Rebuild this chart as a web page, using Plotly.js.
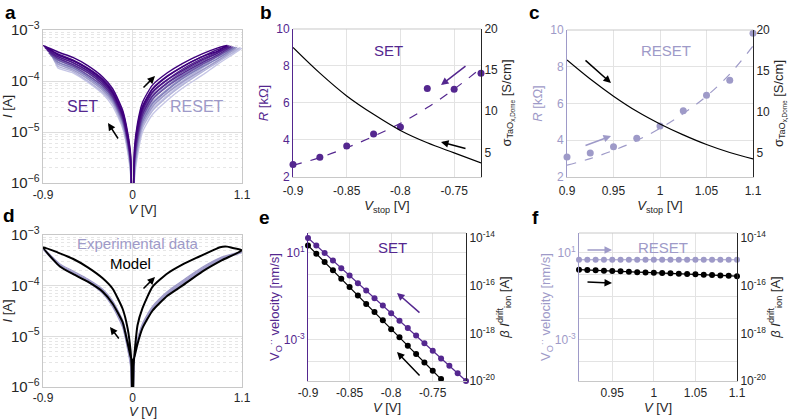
<!DOCTYPE html>
<html><head><meta charset="utf-8">
<script src="https://cdn.plot.ly/plotly-3.0.1.min.js"></script>
<style>html,body{margin:0;padding:0;background:#fff;}#chart{width:800px;height:419px;}</style>
</head><body><div id="chart"></div>
<script>
// ================= DATA =================
// ---- Panel a: I-V cycles (dark -> light) ----
const cycleColors = ['#3f007d','#4a1486','#54278f','#6a51a3','#807dba','#9e9ac8','#b3b3d9','#c6c6e6'];
const zeroCurrent = 1e-7;
const setGridV = [-0.02,-0.05,-0.1,-0.2,-0.3,-0.45,-0.6,-0.75];
const setStopV = [-0.9,-0.88,-0.86,-0.84,-0.82,-0.80,-0.79,-0.775];
const setStopI = [5.0e-4,4.5e-4,4.0e-4,3.5e-4,3.2e-4,2.8e-4,2.6e-4,2.4e-4];
const setOutI = [
 [3.2e-6,8.3e-6,2.2e-5,6.0e-5,1.05e-4,1.75e-4,2.5e-4,3.3e-4],
 [2.9e-6,7.6e-6,2.1e-5,5.5e-5,9.5e-5,1.6e-4,2.3e-4,3.0e-4],
 [2.6e-6,6.9e-6,1.9e-5,5.0e-5,8.6e-5,1.45e-4,2.1e-4,2.8e-4],
 [2.4e-6,6.3e-6,1.7e-5,4.6e-5,7.9e-5,1.3e-4,1.95e-4,2.6e-4],
 [2.1e-6,5.8e-6,1.6e-5,4.2e-5,7.2e-5,1.2e-4,1.8e-4,2.35e-4],
 [1.9e-6,5.3e-6,1.45e-5,3.9e-5,6.6e-5,1.1e-4,1.65e-4,2.15e-4],
 [1.7e-6,4.7e-6,1.3e-5,3.6e-5,6.0e-5,1.0e-4,1.55e-4,1.95e-4],
 [1.5e-6,4.2e-6,1.2e-5,3.2e-5,5.6e-5,9.5e-5,1.45e-4,1.8e-4]];
const setBackI = [
 [3.8e-6,1.0e-5,2.7e-5,7.1e-5,1.2e-4,2.0e-4,2.9e-4,3.7e-4],
 [3.4e-6,9.1e-6,2.5e-5,6.5e-5,1.1e-4,1.8e-4,2.6e-4,3.4e-4],
 [3.1e-6,8.1e-6,2.2e-5,5.9e-5,1.0e-4,1.7e-4,2.5e-4,3.2e-4],
 [2.8e-6,7.4e-6,2.0e-5,5.4e-5,9.3e-5,1.55e-4,2.3e-4,3.0e-4],
 [2.5e-6,6.8e-6,1.9e-5,4.9e-5,8.5e-5,1.45e-4,2.1e-4,2.7e-4],
 [2.2e-6,6.2e-6,1.7e-5,4.6e-5,7.8e-5,1.3e-4,1.95e-4,2.5e-4],
 [2.0e-6,5.5e-6,1.55e-5,4.2e-5,7.1e-5,1.2e-4,1.8e-4,2.3e-4],
 [1.8e-6,5.0e-6,1.4e-5,3.8e-5,6.6e-5,1.1e-4,1.7e-4,2.1e-4]];
const resetGridV = [0.02,0.05,0.1,0.2,0.35,0.5,0.7,0.85];
const resetStopV = [0.95,0.97,0.99,1.01,1.03,1.05,1.08,1.1];
const resetStopI = [5.0e-4,4.9e-4,4.8e-4,4.7e-4,4.6e-4,4.6e-4,4.5e-4,4.4e-4];
const resetOutI = [
 [5.0e-6,1.5e-5,3.8e-5,8.3e-5,1.45e-4,2.2e-4,3.4e-4,4.4e-4],
 [4.4e-6,1.3e-5,3.2e-5,7.1e-5,1.26e-4,1.9e-4,3.0e-4,4.1e-4],
 [3.7e-6,1.1e-5,2.8e-5,6.2e-5,1.07e-4,1.7e-4,2.75e-4,3.7e-4],
 [3.2e-6,9.3e-6,2.4e-5,5.2e-5,9.3e-5,1.5e-4,2.45e-4,3.5e-4],
 [2.8e-6,8.1e-6,2.1e-5,4.5e-5,8.1e-5,1.3e-4,2.2e-4,3.2e-4],
 [2.4e-6,6.9e-6,1.8e-5,3.8e-5,6.9e-5,1.15e-4,1.95e-4,3.0e-4],
 [2.0e-6,5.9e-6,1.55e-5,3.3e-5,6.0e-5,1.0e-4,1.8e-4,2.75e-4],
 [1.8e-6,5.0e-6,1.3e-5,2.8e-5,5.2e-5,8.9e-5,1.6e-4,2.5e-4]];
const resetBackI = [
 [4.0e-6,1.2e-5,3.0e-5,6.9e-5,1.23e-4,1.9e-4,3.0e-4,3.8e-4],
 [3.4e-6,1.0e-5,2.6e-5,5.9e-5,1.05e-4,1.6e-4,2.6e-4,3.5e-4],
 [2.9e-6,8.5e-6,2.2e-5,5.0e-5,9.1e-5,1.4e-4,2.3e-4,3.2e-4],
 [2.5e-6,7.1e-6,1.9e-5,4.3e-5,7.8e-5,1.23e-4,2.1e-4,3.0e-4],
 [2.0e-6,6.0e-6,1.6e-5,3.6e-5,6.6e-5,1.1e-4,1.9e-4,2.7e-4],
 [1.7e-6,5.0e-6,1.4e-5,3.1e-5,5.8e-5,9.5e-5,1.65e-4,2.45e-4],
 [1.5e-6,4.3e-6,1.2e-5,2.6e-5,4.9e-5,8.3e-5,1.5e-4,2.3e-4],
 [1.26e-6,3.5e-6,1.0e-5,2.2e-5,4.2e-5,7.2e-5,1.3e-4,2.1e-4]];

// ---- Panel b: SET ----
const setVstop = [-0.9,-0.875,-0.85,-0.825,-0.8,-0.775,-0.75,-0.725];
const setR = [2.67,3.07,3.67,4.33,4.70,6.78,6.74,7.61];
const setRfit = [2.63,3.05,3.58,4.2,4.9,5.75,6.75,7.88];
const setSigma = [17.76,14.63,11.86,9.62,7.66,6.16,4.93,3.71];

// ---- Panel c: RESET ----
const resetVstop = [0.9,0.925,0.95,0.975,1.0,1.025,1.05,1.075,1.1];
const resetR = [3.09,3.31,3.64,4.11,4.78,5.6,6.45,7.27,9.82];
const resetRfit = [2.64,3.0,3.45,3.98,4.65,5.45,6.4,7.6,9.13];
const resetSigma = [16.33,14.0,11.9,10.05,8.5,7.16,5.98,5.0,4.22];

// ---- Panel d: model & experiment ----
const modelSetOutV = [-0.01,-0.02,-0.05,-0.1,-0.2,-0.3,-0.45,-0.6,-0.73,-0.8,-0.9];
const modelSetOutI = [3.5e-6,4.0e-6,7.4e-6,1.9e-5,4.4e-5,7.6e-5,1.2e-4,1.7e-4,2.4e-4,3.3e-4,5.75e-4];
const modelSetBackV = [-0.75,-0.6,-0.45,-0.3,-0.2,-0.1,-0.05,-0.02,-0.01];
const modelSetBackI = [4.5e-4,3.4e-4,2.3e-4,1.4e-4,8.7e-5,3.5e-5,1.45e-5,5.2e-6,2.5e-6];
const modelResetOutV = [0.01,0.02,0.05,0.1,0.2,0.35,0.5,0.65,0.8,0.88,0.95,1.0,1.1];
const modelResetOutI = [2.5e-6,4.6e-6,1.65e-5,3.6e-5,9.5e-5,1.74e-4,2.6e-4,3.6e-4,4.9e-4,5.75e-4,5.9e-4,5.6e-4,5.0e-4];
const modelResetBackV = [0.9,0.7,0.5,0.35,0.2,0.1,0.05,0.02,0.01];
const modelResetBackI = [3.2e-4,1.9e-4,1.0e-4,6.3e-5,3.2e-5,1.45e-5,7.1e-6,4.0e-6,3.5e-6];

const expSetGridV = [-0.02,-0.05,-0.1,-0.2,-0.3,-0.45,-0.6,-0.73,-0.8];
const expSetStopV = -0.9;
const expSetStopI = [5.6e-4,5.4e-4,5.2e-4];
const expSetOutI = [
 [3.2e-6,7.0e-6,1.8e-5,4.5e-5,7.8e-5,1.25e-4,1.8e-4,2.5e-4,3.4e-4],
 [2.8e-6,6.0e-6,1.6e-5,4.0e-5,7.2e-5,1.2e-4,1.75e-4,2.45e-4,3.3e-4],
 [2.5e-6,5.5e-6,1.5e-5,3.8e-5,7.0e-5,1.18e-4,1.7e-4,2.35e-4,3.2e-4]];
const expSetBackI = [
 [3.6e-6,8.5e-6,2.1e-5,5.0e-5,8.5e-5,1.35e-4,1.95e-4,2.7e-4,3.6e-4],
 [3.3e-6,8.0e-6,2.0e-5,4.8e-5,8.2e-5,1.3e-4,1.85e-4,2.6e-4,3.5e-4],
 [3.0e-6,7.5e-6,1.9e-5,4.6e-5,7.9e-5,1.25e-4,1.8e-4,2.5e-4,3.4e-4]];
const expResetGridV = [0.02,0.05,0.1,0.2,0.35,0.5,0.7,0.9];
const expResetStopV = 1.1;
const expResetStopI = [4.6e-4,4.5e-4,4.7e-4];
const expResetOutI = [
 [4.5e-6,8.5e-6,1.7e-5,3.7e-5,7.4e-5,1.2e-4,2.2e-4,3.6e-4],
 [4.2e-6,8.0e-6,1.6e-5,3.5e-5,7.1e-5,1.15e-4,2.1e-4,3.5e-4],
 [4.8e-6,9.0e-6,1.8e-5,3.9e-5,7.7e-5,1.25e-4,2.3e-4,3.7e-4]];
const expResetBackI = [
 [4.0e-6,7.6e-6,1.55e-5,3.4e-5,6.8e-5,1.1e-4,2.05e-4,3.4e-4],
 [3.8e-6,7.3e-6,1.5e-5,3.3e-5,6.6e-5,1.07e-4,2.0e-4,3.3e-4],
 [4.1e-6,7.8e-6,1.6e-5,3.5e-5,7.0e-5,1.13e-4,2.1e-4,3.5e-4]];

// ---- Panel e: SET kinetics ----
const eV = [-0.90,-0.89,-0.88,-0.87,-0.86,-0.85,-0.84,-0.83,-0.82,-0.81,-0.80,-0.79,-0.78,-0.77,-0.76,-0.75,-0.74,-0.73,-0.72,-0.71];
const eVelocity = [49,22,10,4.5,2.0,0.91,0.41,0.19,0.083,0.038,0.017,0.0077,0.0035,0.0016,7.1e-4,3.2e-4,1.4e-4,6.5e-5,2.9e-5,1.3e-5];
const eVdrift = [-0.90,-0.89,-0.88,-0.87,-0.86,-0.85,-0.84,-0.83,-0.82,-0.81,-0.80,-0.79,-0.78,-0.77,-0.76,-0.75,-0.74];
const eDrift = [4.9e-15,2.2e-15,9.8e-16,4.4e-16,1.95e-16,8.7e-17,3.9e-17,1.7e-17,7.8e-18,3.5e-18,1.5e-18,6.8e-19,3.0e-19,1.35e-19,6.0e-20,2.7e-20,1.2e-20];

// ---- Panel f: RESET kinetics ----
const fV = [0.91,0.92,0.93,0.94,0.95,0.96,0.97,0.98,0.99,1.00,1.01,1.02,1.03,1.04,1.05,1.06,1.07,1.08,1.09,1.10];
const fVelocity = [4.9,4.9,4.9,4.9,4.9,4.9,4.9,4.9,4.9,4.9,4.9,4.9,4.9,4.9,4.9,4.9,4.9,4.9,4.9,4.9];
const fDrift = [4.7e-16,4.5e-16,4.4e-16,4.2e-16,4.1e-16,4.0e-16,3.8e-16,3.7e-16,3.6e-16,3.5e-16,3.4e-16,3.3e-16,3.2e-16,3.1e-16,3.0e-16,2.9e-16,2.8e-16,2.7e-16,2.6e-16,2.5e-16];

// ================= STYLE =================
const PURPLE = '#54278f', LAV = '#9e9ac8', DARK = '#262626', GRID = '#e3e3e3', BOX = '#c8c8c8';
const FONT = 'Liberation Sans, Arial, Helvetica, sans-serif';

function rev(a){ return a.slice().reverse(); }
const traces = [];

// Panel a traces (light first, dark on top)
for (let k = cycleColors.length - 1; k >= 0; k--) {
  const x = [0].concat(setGridV, [setStopV[k]], rev(setGridV), [0], resetGridV, [resetStopV[k]], rev(resetGridV), [0]);
  const y = [zeroCurrent].concat(setOutI[k], [setStopI[k]], rev(setBackI[k]), [zeroCurrent], resetOutI[k], [resetStopI[k]], rev(resetBackI[k]), [zeroCurrent]);
  traces.push({x, y, xaxis:'x', yaxis:'y', mode:'lines', line:{color:cycleColors[k], width:1.4, shape:'spline', smoothing:0.6}, hoverinfo:'skip'});
}

// Panel b
traces.push({x:setVstop, y:setSigma, xaxis:'x2', yaxis:'y3', mode:'lines', line:{color:'#000', width:1.2, shape:'spline'}});
traces.push({x:setVstop, y:setRfit, xaxis:'x2', yaxis:'y2', mode:'lines', line:{color:PURPLE, width:1.2, dash:'dash', shape:'spline'}});
traces.push({x:setVstop, y:setR, xaxis:'x2', yaxis:'y2', mode:'markers', marker:{color:PURPLE, size:7}, cliponaxis:false});

// Panel c
traces.push({x:resetVstop, y:resetSigma, xaxis:'x3', yaxis:'y5', mode:'lines', line:{color:'#000', width:1.2, shape:'spline'}});
traces.push({x:resetVstop, y:resetRfit, xaxis:'x3', yaxis:'y4', mode:'lines', line:{color:LAV, width:1.2, dash:'dash', shape:'spline'}});
traces.push({x:resetVstop, y:resetR, xaxis:'x3', yaxis:'y4', mode:'markers', marker:{color:LAV, size:7}, cliponaxis:false});

// Panel d: experiment
for (let j = 0; j < expSetOutI.length; j++) {
  const x = [0].concat(expSetGridV, [expSetStopV], rev(expSetGridV), [0], expResetGridV, [expResetStopV], rev(expResetGridV), [0]);
  const y = [zeroCurrent].concat(expSetOutI[j], [expSetStopI[j]], rev(expSetBackI[j]), [zeroCurrent], expResetOutI[j], [expResetStopI[j]], rev(expResetBackI[j]), [zeroCurrent]);
  traces.push({x, y, xaxis:'x4', yaxis:'y6', mode:'lines', line:{color:LAV, width:1.1, shape:'spline', smoothing:0.6}});
}
// Panel d: model
{
  const x = [0].concat(modelSetOutV, modelSetBackV, [0], modelResetOutV, modelResetBackV, [0]);
  const y = [zeroCurrent].concat(modelSetOutI, modelSetBackI, [zeroCurrent], modelResetOutI, modelResetBackI, [zeroCurrent]);
  traces.push({x, y, xaxis:'x4', yaxis:'y6', mode:'lines', line:{color:'#000', width:2, shape:'spline', smoothing:0.5}});
}

// Panel e
traces.push({x:eV, y:eVelocity, xaxis:'x5', yaxis:'y7', mode:'lines+markers', line:{color:PURPLE, width:1.2}, marker:{color:PURPLE, size:6}, cliponaxis:false});
traces.push({x:eVdrift, y:eDrift, xaxis:'x5', yaxis:'y8', mode:'lines+markers', line:{color:'#000', width:1.2}, marker:{color:'#000', size:6}, cliponaxis:false});

// Panel f
traces.push({x:fV, y:fVelocity, xaxis:'x6', yaxis:'y9', mode:'lines+markers', line:{color:LAV, width:1.2}, marker:{color:LAV, size:6}, cliponaxis:false});
traces.push({x:fV, y:fDrift, xaxis:'x6', yaxis:'y10', mode:'lines+markers', line:{color:'#000', width:1.2}, marker:{color:'#000', size:6}, cliponaxis:false});

// ================= LAYOUT =================
const tf = {family:FONT, size:12, color:DARK};
const titleFont = {family:FONT, size:13, color:DARK};
function xAx(domain, anchor, range, extra){
  return Object.assign({domain, anchor, range, showgrid:true, gridcolor:GRID, gridwidth:1, zeroline:false,
    showline:true, linecolor:BOX, linewidth:1, mirror:true, ticks:'', tickfont:tf, automargin:false, ticklabelstandoff:3}, extra);
}
function yLogIV(domain, anchor){
  return {domain, anchor, type:'log', range:[-6,-3], dtick:1, exponentformat:'power', showgrid:true, gridcolor:'#dddddd',
    minor:{dtick:'D1', showgrid:true, gridcolor:'#e6e6e6', griddash:'dot', ticks:''},
    zeroline:false, showline:true, linecolor:BOX, mirror:true, ticks:'', tickfont:tf,
    title:{text:'<i>I</i> [A]', font:titleFont, standoff:4}};
}
function yLin(domain, anchor, range, dtick, color, title, side, overlaying){
  const o = {domain, anchor, range, dtick, showgrid: side!=='right', gridcolor:GRID, zeroline:false, showline:true,
    linecolor: side==='right' ? DARK : color, ticks:'', tickfont:{family:FONT, size:12, color:side==='right'?DARK:color},
    title:{text:title, font:{family:FONT, size:13, color:side==='right'?DARK:color}, standoff:4}, side: side||'left'};
  if (overlaying) o.overlaying = overlaying;
  return o;
}
const vstopTitle = {text:'<i>V</i><sub>stop</sub> [V]', font:titleFont, standoff:0};
const vTitle = {text:'<i>V</i> [V]', font:titleFont, standoff:3};
const sigmaTitle = 'σ<sub>TaO<sub>x,Dome</sub></sub> [S/cm]';
const velTitle = 'V<sub>O</sub><sup>··</sup> velocity [nm/s]';
const driftTitle = '<i>β I</i><sup>drift</sup><sub>ion</sub> [A]';
const velTicks = [1e-4,1e-3,1e-2,1e-1,1,10];
const velText = [' ','10<sup>-3</sup>',' ',' ',' ','10<sup>1</sup>'];
const driftTicks = [1e-20,1e-18,1e-16,1e-14];
const driftText = ['10<sup>-20</sup>','10<sup>-18</sup>','10<sup>-16</sup>','10<sup>-14</sup>'];

function yVel(domain, anchor, color){
  return {domain, anchor, type:'log', range:[-4.89,1.92], tickvals:velTicks, ticktext:velText, showgrid:true, gridcolor:GRID,
    zeroline:false, showline:true, linecolor:color, ticks:'', tickfont:{family:FONT, size:12, color:color},
    title:{text:velTitle, font:{family:FONT, size:13, color:color}, standoff:0}};
}
function yDrift(domain, anchor, overlaying){
  return {domain, anchor, overlaying, side:'right', type:'log', range:[-20,-13.79], tickvals:driftTicks, ticktext:driftText,
    showgrid:false, zeroline:false, showline:true, linecolor:DARK, ticks:'', tickfont:tf,
    title:{text:driftTitle, font:titleFont, standoff:4}};
}

const domA = [0.05375,0.3025], domAy = [0.5632,0.9284];
const domB = [0.36625,0.60125], domBy = [0.5776,0.9308];
const domC = [0.70875,0.94125], domCy = [0.5776,0.9284];
const domDy = [0.0764,0.4391];
const domE = [0.385,0.5825], domEy = [0.0907,0.4439];
const domF = [0.72375,0.92125], domFy = [0.0907,0.4439];

const layout = {
  width:800, height:419, margin:{l:0,r:0,t:0,b:0}, paper_bgcolor:'#fff', plot_bgcolor:'#fff', showlegend:false,
  font:{family:FONT, size:12, color:DARK},
  xaxis: xAx(domA, 'y', [-0.9,1.1], {tickvals:[-0.9,0,1.1], ticktext:['-0.9','0','1.1'], title:vTitle, ticklabelstandoff:1}),
  yaxis: yLogIV(domAy, 'x'),
  xaxis2: xAx(domB, 'y2', [-0.9,-0.725], {tickvals:[-0.9,-0.85,-0.8,-0.75], ticktext:['-0.9','-0.85','-0.8','-0.75'], title:vstopTitle, mirror:false}),
  yaxis2: yLin(domBy, 'x2', [2,10], 2, PURPLE, '<i>R</i> [kΩ]'),
  yaxis3: yLin(domBy, 'x2', [2,20], 5, DARK, sigmaTitle, 'right', 'y2'),
  xaxis3: xAx(domC, 'y4', [0.9,1.1], {tickvals:[0.9,0.95,1,1.05,1.1], ticktext:['0.9','0.95','1','1.05','1.1'], title:vstopTitle, mirror:false}),
  yaxis4: yLin(domCy, 'x3', [2,10], 2, LAV, '<i>R</i> [kΩ]'),
  yaxis5: yLin(domCy, 'x3', [2,20], 5, DARK, sigmaTitle, 'right', 'y4'),
  xaxis4: xAx(domA, 'y6', [-0.9,1.1], {tickvals:[-0.9,0,1.1], ticktext:['-0.9','0','1.1'], ticklabelstandoff:0}),
  yaxis6: yLogIV(domDy, 'x4'),
  xaxis5: xAx(domE, 'y7', [-0.9,-0.71], {tickvals:[-0.9,-0.85,-0.8,-0.75], ticktext:['-0.9','-0.85','-0.8','-0.75'], title:vTitle, mirror:false, ticklabelstandoff:1}),
  yaxis7: yVel(domEy, 'x5', PURPLE),
  yaxis8: yDrift(domEy, 'x5', 'y7'),
  xaxis6: xAx(domF, 'y9', [0.91,1.1], {tickvals:[0.95,1,1.05,1.1], ticktext:['0.95','1','1.05','1.1'], title:vTitle, mirror:false, ticklabelstandoff:1}),
  yaxis9: yVel(domFy, 'x6', LAV),
  yaxis10: yDrift(domFy, 'x6', 'y9'),
  annotations: [],
  shapes: []
};
// top frame lines for b, c, e, f (gray)
[[domE,domEy],[domF,domFy],[domB,domBy],[domC,domCy]].forEach(([dx,dy])=>{
  layout.shapes.push({type:'line', xref:'paper', yref:'paper', x0:dx[0], x1:dx[1], y0:dy[1], y1:dy[1], line:{color:BOX, width:1}});
});

function label(text, x, y, size, color, bold){
  layout.annotations.push({text: bold ? '<b>'+text+'</b>' : text, x, y, xref:'paper', yref:'paper', showarrow:false,
    font:{family:FONT, size, color}, xanchor:'center', yanchor:'middle'});
}
function arrow(hx, hy, ax, ay, color){
  layout.annotations.push({x:hx/800, y:1-hy/419, xref:'paper', yref:'paper', ax, ay, axref:'pixel', ayref:'pixel',
    text:'', showarrow:true, arrowhead:2, arrowsize:1, arrowwidth:1.5, arrowcolor:color});
}
// panel letters
label('a', 10/800, 1-12/419, 19, '#000', true);
label('b', 266/800, 1-12/419, 19, '#000', true);
label('c', 534/800, 1-12/419, 19, '#000', true);
label('d', 9/800, 1-215/419, 19, '#000', true);
label('e', 264/800, 1-217/419, 19, '#000', true);
label('f', 535/800, 1-217/419, 19, '#000', true);
// panel d x-axis title
layout.annotations.push({text:'<i>V</i> [V]', x:142.5/800, y:1-411/419, xref:'paper', yref:'paper', showarrow:false,
  font:titleFont, xanchor:'center', yanchor:'middle'});
// text labels
label('SET', 82/800, 1-107/419, 16, PURPLE);
label('RESET', 197/800, 1-107/419, 16, LAV);
label('SET', 388/800, 1-51/419, 15, PURPLE);
label('RESET', 666/800, 1-51/419, 15, LAV);
label('Experimental data', 138/800, 1-243/419, 15, LAV);
label('Model', 130/800, 1-263/419, 15, '#000');
label('SET', 392/800, 1-248/419, 15, PURPLE);
label('RESET', 663/800, 1-248/419, 15, LAV);
// arrows
arrow(108,123,11,17,'#000');
arrow(155,76,-13,13,'#000');
arrow(441,85,26,-20,PURPLE);
arrow(441,142,26,7,'#000');
arrow(611,83,-27,-24,'#000');
arrow(611,136,-27,10,LAV);
arrow(110,327,10,13,'#000');
arrow(155,277,-13,13,'#000');
arrow(397,293,24,21,PURPLE);
arrow(397,352,24,25,'#000');
arrow(612,250,-26,0,LAV);
arrow(612,283,-26,-1,'#000');

Plotly.newPlot('chart', traces, layout, {staticPlot:true, displayModeBar:false});
</script></body></html>
